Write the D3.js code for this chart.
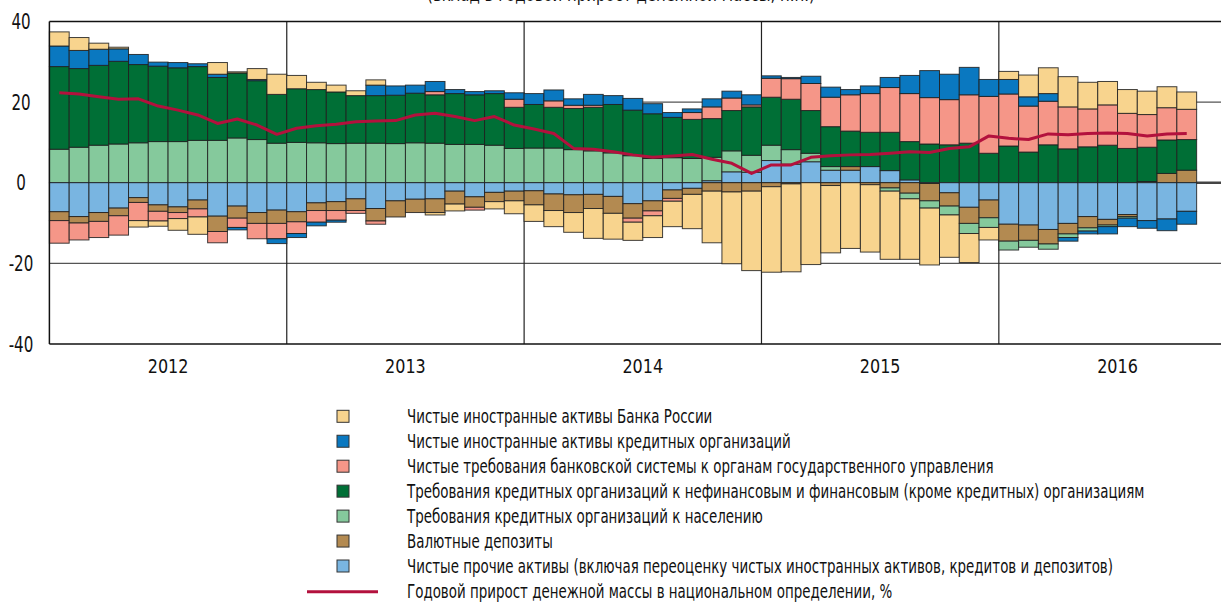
<!DOCTYPE html>
<html><head><meta charset="utf-8">
<script src="https://cdn.jsdelivr.net/npm/d3@7"></script>
<style>
html,body{margin:0;padding:0;background:#fff;}
svg{display:block;}
text{font-family:"Liberation Sans Narrow","Arial Narrow","DejaVu Sans",sans-serif;fill:#111;}
</style></head>
<body>
<svg id="chart" width="1221" height="603"></svg>
<script>
// ---------- DATA ----------
const months = ("2012-01 2012-02 2012-03 2012-04 2012-05 2012-06 2012-07 2012-08 2012-09 2012-10 2012-11 2012-12 " +
  "2013-01 2013-02 2013-03 2013-04 2013-05 2013-06 2013-07 2013-08 2013-09 2013-10 2013-11 2013-12 " +
  "2014-01 2014-02 2014-03 2014-04 2014-05 2014-06 2014-07 2014-08 2014-09 2014-10 2014-11 2014-12 " +
  "2015-01 2015-02 2015-03 2015-04 2015-05 2015-06 2015-07 2015-08 2015-09 2015-10 2015-11 2015-12 " +
  "2016-01 2016-02 2016-03 2016-04 2016-05 2016-06 2016-07 2016-08 2016-09 2016-10").split(" ");
const years = ["2012","2013","2014","2015","2016"];
const yTicks = [-40,-20,0,20,40];

// Чистые иностранные активы Банка России
const nfaCBR = [3.5,3.2,1.5,0.4,-1.6,-1.3,-2.9,-4.3,2.9,0.3,2.7,5.0,
  3.3,1.8,1.7,1.2,1.3,0,0,-0.6,-1.7,0,-1.8,-3.2,
  -4.1,-4.0,-4.9,-7.4,-6.4,-4.5,-5.4,-6.3,-8.5,-12.8,-17.8,-19.7,
  -21.2,-21.8,-20.3,-16.7,-16.3,-16.7,-16.9,-15.0,-14.1,-10.5,-7.2,-3.1,
  2.0,5.4,6.4,7.5,6.6,5.8,5.9,5.8,5.2,4.3];
// Чистые иностранные активы кредитных организаций
const nfaCO = [5.1,4.5,4.0,3.1,2.5,1.0,1.3,0.7,0.8,-0.6,0.3,-1.2,
  -1.0,-0.9,-0.5,0,2.6,2.3,2.0,2.5,1.0,0.8,0.7,1.6,
  2.7,2.7,1.6,2.7,2.2,2.9,2.5,1.2,0.9,2.0,1.7,2.5,
  0.6,0.3,1.8,2.5,1.3,1.9,2.5,4.5,6.7,6.3,6.8,4.2,
  3.6,2.3,1.9,-0.9,-0.7,-1.8,-2.1,-1.9,-2.9,-3.2];
// Чистые требования банковской системы к органам госуправления
const govClaims = [-5.6,-4.2,-4.0,-4.8,-4.5,-2.4,-1.5,-2.0,-2.8,-2.3,-3.8,-3.8,
  -2.9,-2.9,-2.4,-0.7,-0.8,0,0,0.8,0,-0.7,0,2.0,
  0,1.6,0.8,0.5,0,-1.0,-1.2,-0.7,1.7,2.9,3.1,0.5,
  4.7,5.1,6.7,7.3,9.0,9.6,11.1,11.9,11.5,11.2,12.0,14.1,
  12.9,11.4,10.8,10.4,9.4,10.0,8.7,8.1,8.0,7.5];
// Требования к нефинансовым и финансовым организациям
const corpLoans = [20.5,19.5,19.8,20.5,19.4,18.7,18.3,18.3,15.6,16.1,14.6,12.1,
  13.3,13.2,12.8,11.8,11.8,12.0,12.3,12.0,12.6,12.3,12.8,10.2,
  10.8,10.1,10.2,10.8,12.0,11.3,11.1,10.0,9.7,9.6,10.0,12.0,
  11.9,12.5,10.6,9.9,8.8,8.5,9.5,9.5,9.6,9.4,9.8,7.3,
  9.1,7.6,9.4,8.4,8.9,9.3,8.5,8.5,8.3,7.6];
// Требования к населению
const houseLoans = [8.3,8.8,9.3,9.6,9.9,10.2,10.2,10.5,10.5,11.1,10.7,9.8,
  10.0,9.9,9.7,9.8,9.8,9.7,9.9,9.8,9.5,9.5,9.3,8.5,
  8.6,8.6,8.2,7.9,7.4,6.7,6.0,6.2,6.0,5.8,5.2,4.2,
  3.8,3.6,2.1,0.9,0,0,-0.8,-1.4,-1.8,-2.2,-2.5,-2.4,
  -2.2,-1.7,-1.3,-0.9,-0.8,-0.4,-0.4,0,0,0];
// Валютные депозиты
const fxDeposits = [-2.2,-1.6,-2.2,-1.9,-1.2,-1.6,-1.4,-2.2,-3.8,-3.0,-2.7,-3.3,
  -2.5,-1.9,-2.2,-2.9,-3.1,-4.0,-3.3,-3.4,-3.2,-2.6,-2.3,-2.4,
  -3.5,-4.1,-4.4,-3.5,-4.2,-3.6,-2.5,-2.1,-1.5,-2.1,-2.3,-2.1,
  -1.0,-0.3,0,-0.7,0.9,-0.5,-1.3,-2.6,-4.3,-3.3,-4.0,-4.4,
  -4.2,-3.8,-3.6,-2.6,-2.8,-1.4,-0.5,0.3,2.3,3.1];
// Чистые прочие активы
const otherAssets = [-7.2,-8.4,-7.4,-6.3,-3.7,-5.5,-6.0,-4.3,-8.3,-5.8,-7.4,-6.8,
  -7.2,-5.0,-4.7,-4.0,-6.4,-4.5,-4.1,-4.0,-2.1,-3.5,-2.4,-2.1,
  -2.0,-2.8,-3.0,-2.9,-3.4,-5.2,-4.5,-1.8,-1.4,0.5,2.7,2.6,
  5.5,4.6,5.2,3.1,3.1,4.0,3.0,0.7,-0.2,-2.5,-6.1,-4.3,
  -10.3,-10.5,-11.6,-10.1,-8.4,-9.1,-7.9,-9.4,-9.0,-7.1];
// Годовой прирост денежной массы, %
const m2Growth = [22.3,22.0,21.3,20.7,20.8,19.0,18.0,16.8,14.7,15.8,14.3,12.0,
  13.5,14.1,14.5,15.1,15.3,15.4,16.8,17.2,16.4,15.4,16.4,14.3,
  13.3,12.2,8.5,8.3,7.7,6.9,6.3,6.6,7.0,5.8,4.8,2.3,
  4.4,4.4,6.3,6.7,6.9,7.0,7.3,7.7,7.5,8.5,8.9,11.6,
  11.0,10.7,12.1,11.9,12.2,12.3,12.2,11.6,12.1,12.2];

const seriesNames = [
  "Чистые иностранные активы Банка России",
  "Чистые иностранные активы кредитных организаций",
  "Чистые требования банковской системы к органам государственного управления",
  "Требования кредитных организаций к нефинансовым и финансовым (кроме кредитных) организациям",
  "Требования кредитных организаций к населению",
  "Валютные депозиты",
  "Чистые прочие активы (включая переоценку чистых иностранных активов, кредитов и депозитов)"
];
const lineName = "Годовой прирост денежной массы в национальном определении, %";
const titleText = "(вклад в годовой прирост денежной массы, п.п.)";

// ---------- BUILD ----------
const colors = {
  nfaCBR:"#f8d48e", nfaCO:"#0a78c0", gov:"#f59688", corp:"#006f36",
  house:"#85c99c", fx:"#b38a51", other:"#79b5e1"
};
const series = {
  nfaCBR: nfaCBR, nfaCO: nfaCO, gov: govClaims, corp: corpLoans,
  house: houseLoans, fx: fxDeposits, other: otherAssets
};
const legendKeys = ["nfaCBR","nfaCO","gov","corp","house","fx","other"];
const posOrder = ["other","fx","house","corp","gov","nfaCO","nfaCBR"];
const negOrder = ["other","fx","house","gov","nfaCBR","nfaCO"];

const svg = d3.select("#chart");
const L = 49.4, T = 21.4, B = 344;
const x = d3.scaleLinear().domain([0, 60]).range([L, L + 60 * 19.78]);
const y = d3.scaleLinear().domain([-40, 40]).range([B, T]);

// narrow look: place text at (px,py) and scale it horizontally by sx
function narrowText(sel, px, py, sx) {
  sel.attr("x", 0).attr("y", 0)
    .attr("transform", (d, i) => `translate(${px(d, i)},${py(d, i)}) scale(${sx},1)`);
}

// grid lines
const g = svg.append("g");
g.selectAll("line.h").data([20, -20]).join("line")
  .attr("x1", L).attr("x2", 1221).attr("y1", d => y(d)).attr("y2", d => y(d))
  .attr("stroke", "#555").attr("stroke-width", 1.2);
g.selectAll("line.v").data([12, 24, 36, 48]).join("line")
  .attr("x1", d => x(d)).attr("x2", d => x(d)).attr("y1", T).attr("y2", B)
  .attr("stroke", "#222").attr("stroke-width", 1.2);
g.append("line").attr("x1", L).attr("x2", 1221).attr("y1", y(0)).attr("y2", y(0))
  .attr("stroke", "#444").attr("stroke-width", 2.5);

// stacked bars
const rects = [];
months.forEach((m, i) => {
  let p = 0, n = 0;
  posOrder.forEach(k => {
    const v = series[k][i];
    if (v > 0) { rects.push({i, k, y0: p, y1: p + v}); p += v; }
  });
  negOrder.forEach(k => {
    const v = series[k][i];
    if (v < 0) { rects.push({i, k, y0: n + v, y1: n}); n += v; }
  });
});
svg.append("g").selectAll("rect").data(rects).join("rect")
  .attr("x", d => x(d.i)).attr("width", d => x(d.i + 1) - x(d.i))
  .attr("y", d => y(d.y1)).attr("height", d => y(d.y0) - y(d.y1))
  .attr("fill", d => colors[d.k])
  .attr("stroke", "#1e1e1e").attr("stroke-opacity", 0.85).attr("stroke-width", 1);

// frame
const f = svg.append("g").attr("stroke", "#111").attr("stroke-width", 1.5);
f.append("line").attr("x1", L).attr("x2", 1221).attr("y1", T).attr("y2", T);
f.append("line").attr("x1", L).attr("x2", 1221).attr("y1", B).attr("y2", B);
f.append("line").attr("x1", L).attr("x2", L).attr("y1", T).attr("y2", B);

// line
svg.append("path").datum(m2Growth)
  .attr("fill", "none").attr("stroke", "#b3113d").attr("stroke-width", 3)
  .attr("stroke-linejoin", "round")
  .attr("d", d3.line().x((d, i) => x(i + 0.5)).y(d => y(d)));

// y axis labels
svg.append("g").selectAll("text").data(yTicks).join("text")
  .attr("dy", "0.36em").attr("text-anchor", "middle").attr("font-size", 21)
  .text(d => d)
  .call(narrowText, () => 21, d => y(d), 0.72);

// year labels
svg.append("g").selectAll("text").data(years).join("text")
  .attr("dy", "0.36em").attr("text-anchor", "middle").attr("font-size", 20)
  .text(d => d)
  .call(narrowText, (d, i) => x(i * 12 + 6), () => 366, 0.8);

// partial title (clipped at top edge, as in the source image)
const tt = svg.append("text").attr("text-anchor", "middle")
  .attr("font-size", 19).text(titleText);
const ttw = tt.node().getComputedTextLength();
tt.attr("transform", `translate(621,0.5) scale(${388 / ttw},1)`);

// legend
const lg = svg.append("g");
const rowY = i => 416.3 + i * 24.95;
legendKeys.forEach((k, i) => {
  lg.append("rect").attr("x", 337).attr("y", rowY(i) - 6).attr("width", 12).attr("height", 12)
    .attr("fill", colors[k]).attr("stroke", "#333").attr("stroke-width", 1);
});
lg.append("line").attr("x1", 307).attr("x2", 378).attr("y1", rowY(7) + 0.8).attr("y2", rowY(7) + 0.8)
  .attr("stroke", "#b3113d").attr("stroke-width", 3);
const legTexts = lg.selectAll("text.leg").data(seriesNames.concat([lineName])).join("text")
  .attr("class", "leg").attr("dy", "0.36em")
  .attr("font-size", 19).text(d => d);
// one horizontal factor for all legend texts so the longest spans as in the reference
const longest = legTexts.nodes()[3].getComputedTextLength();
legTexts.call(narrowText, () => 407, (d, i) => rowY(i), 738 / longest);
</script>
</body></html>
